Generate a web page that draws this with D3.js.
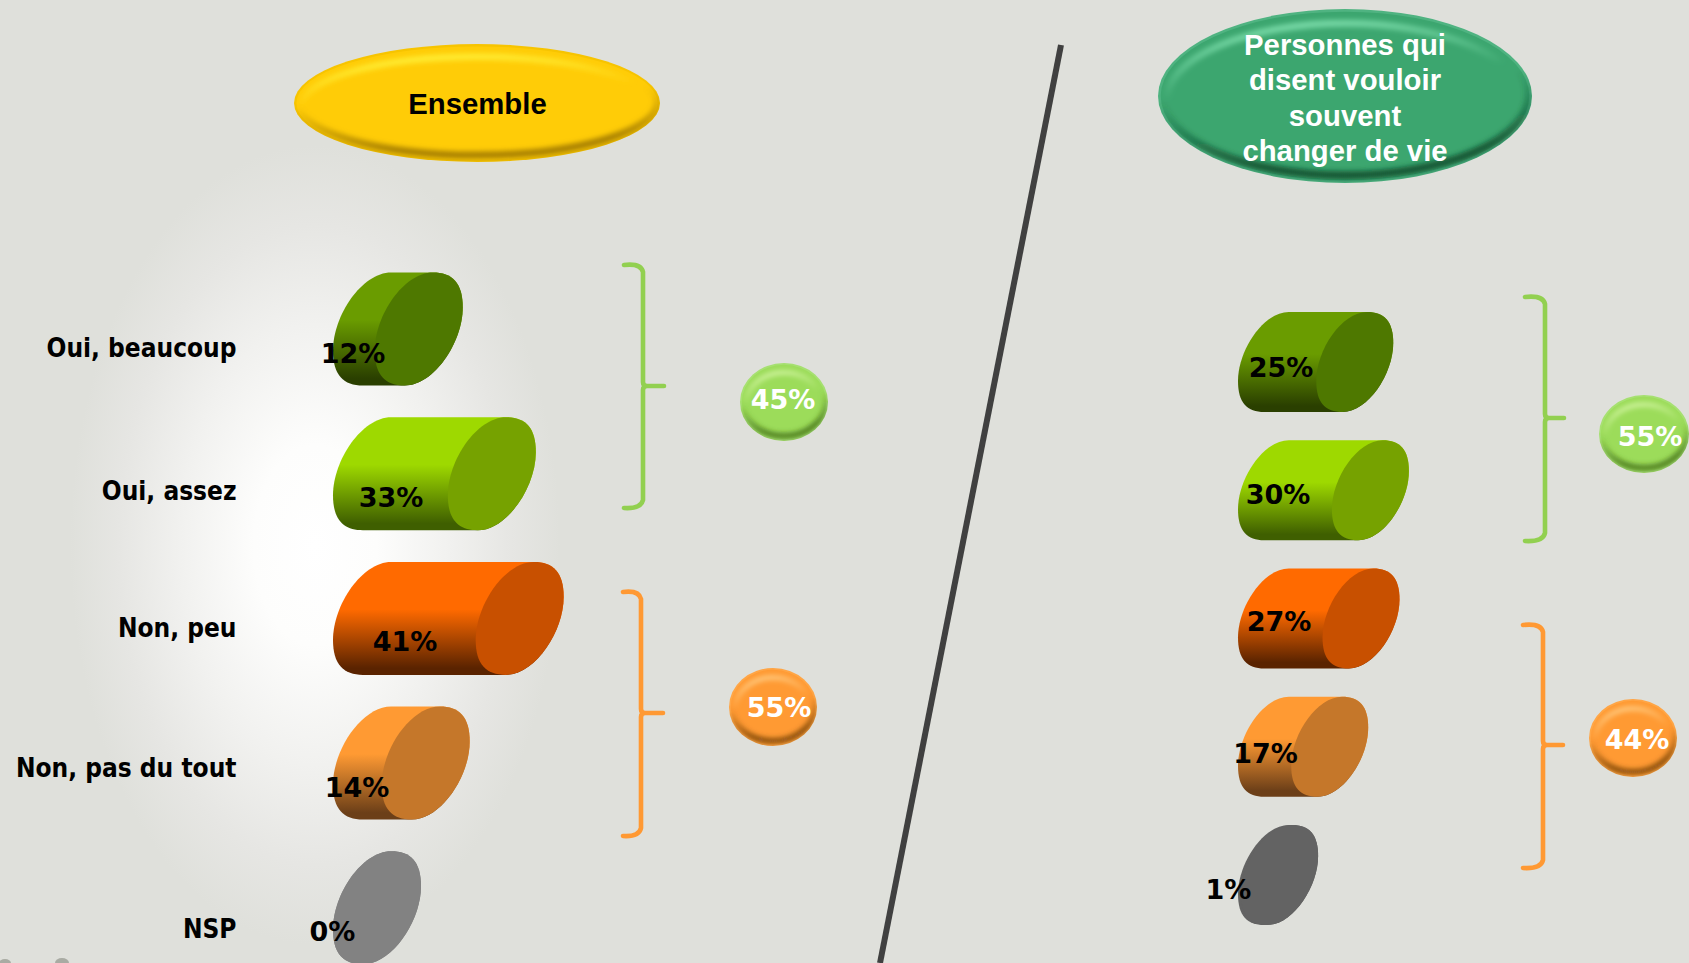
<!DOCTYPE html>
<html><head><meta charset="utf-8">
<script src="https://cdn.jsdelivr.net/npm/d3@7"></script>
<style>html,body{margin:0;padding:0;background:#dfe0db;overflow:hidden}svg{display:block}</style>
</head><body><div id="c"></div>
<script>
const categories = ["Oui, beaucoup","Oui, assez","Non, peu","Non, pas du tout","NSP"];
const ensembleValues = [12,33,41,14,0];
const personnesValues = [25,30,27,17,1];
const groupLabels = ["Ensemble",["Personnes qui","disent vouloir","souvent","changer de vie"]];
const ensembleTotals = [45,55];
const personnesTotals = [55,44];
const bodyTop = ["#6a9c00","#9ed900","#ff6a00","#ff9a33","#828282"];
const bodyBottom = ["#2a3f00","#3f5f00","#5a2300","#6c3f18","#828282"];
const capFill = ["#4e7800","#76a200","#c85000","#c5772a","#828282"];

const W=1689,H=963;
const svg=d3.select("#c").append("svg").attr("width",W).attr("height",H);
const defs=svg.append("defs");
svg.append("rect").attr("width",W).attr("height",H).attr("fill","#dfe0db");
const glow=defs.append("radialGradient").attr("id","glow");
[[0,"#ffffff"],[.25,"#fdfdfc"],[.55,"#f1f1ef"],[.8,"#e6e6e3"],[1,"#dfe0db"]].forEach(s=>glow.append("stop").attr("offset",s[0]).attr("stop-color",s[1]));
svg.append("ellipse").attr("cx",315).attr("cy",545).attr("rx",245).attr("ry",400).attr("fill","url(#glow)");

const blur=defs.append("filter").attr("id","b").attr("x","-20%").attr("y","-20%").attr("width","140%").attr("height","140%");
blur.append("feGaussianBlur").attr("stdDeviation",2.4);

// corner specks
svg.append("ellipse").attr("cx",5).attr("cy",963).attr("rx",6).attr("ry",4).attr("fill","#a9aba3");
svg.append("ellipse").attr("cx",62).attr("cy",963).attr("rx",7).attr("ry",5).attr("fill","#a9aba3");

// divider
svg.append("path").attr("d",d3.line()([[1061,45],[880,963]])).attr("stroke","#404040").attr("stroke-width",6).attr("fill","none");

// bevel helper
let uid=0;
function bevel(cx,cy,rx,ry,base,edge,light,dark,t){
  const id=++uid, g=svg.append("g");
  defs.append("clipPath").attr("id","cl"+id).append("ellipse").attr("cx",cx).attr("cy",cy).attr("rx",rx).attr("ry",ry);
  const lg=defs.append("linearGradient").attr("id","lg"+id).attr("x1",.1).attr("x2",.35).attr("y1",0).attr("y2",1);
  lg.append("stop").attr("offset",0).attr("stop-color",light).attr("stop-opacity",1);
  lg.append("stop").attr("offset",.45).attr("stop-color",light).attr("stop-opacity",0);
  const dg=defs.append("linearGradient").attr("id","dg"+id).attr("x1",.1).attr("x2",.3).attr("y1",0).attr("y2",1);
  dg.append("stop").attr("offset",.5).attr("stop-color",dark).attr("stop-opacity",0);
  dg.append("stop").attr("offset",.95).attr("stop-color",dark).attr("stop-opacity",.85);
  g.append("ellipse").attr("cx",cx).attr("cy",cy).attr("rx",rx).attr("ry",ry).attr("fill",edge);
  const inner=g.append("g").attr("clip-path",`url(#cl${id})`);
  inner.append("ellipse").attr("cx",cx).attr("cy",cy).attr("rx",rx-t*.3).attr("ry",ry-t*.3).attr("fill",base);
  inner.append("ellipse").attr("cx",cx).attr("cy",cy+t*.4).attr("rx",rx-t).attr("ry",ry-t*1.2).attr("fill","none")
    .attr("stroke",`url(#lg${id})`).attr("stroke-width",t*.8).attr("filter","url(#b)");
  inner.append("ellipse").attr("cx",cx).attr("cy",cy-t*.1).attr("rx",rx-t*.35).attr("ry",ry-t*.75).attr("fill","none")
    .attr("stroke",`url(#dg${id})`).attr("stroke-width",t*.9).attr("filter","url(#b)");
}
bevel(477,103,183,59,"#ffcc07","#f7c400","#fff23a","#9a7400",8);
bevel(1345,96,187,87,"#3ca66f","#4fb381","#7fe0ae","#0d4a2c",9);
svg.append("text").attr("x",477.5).attr("y",114).attr("text-anchor","middle").attr("font-family","Liberation Sans").attr("font-weight",700).attr("font-size",29.3).attr("fill","#000").text(groupLabels[0]);
groupLabels[1].forEach((l,i)=>svg.append("text").attr("x",1345).attr("y",55+i*35.3).attr("text-anchor","middle").attr("font-family","Liberation Sans").attr("font-weight",700).attr("font-size",29.3).attr("fill","#fff").text(l));

// cylinder shapes
function capOutline(x0,x1,y0,y1){
  const w=x1-x0,h=y1-y0;
  return {L:[x0,y0+.69*h],T:[x0+.66*w,y0],R:[x1,y0+.31*h],B:[x0+.34*w,y1],w,h};
}
function capPath(x0,x1,y0,y1){
  const c=capOutline(x0,x1,y0,y1),p=d3.path(),{w,h}=c;
  p.moveTo(...c.L);
  p.bezierCurveTo(x0,y0+.38*h,x0+.33*w,y0,c.T[0],c.T[1]);
  p.bezierCurveTo(x0+.88*w,y0,x1,y0+.09*h,c.R[0],c.R[1]);
  p.bezierCurveTo(x1,y0+.62*h,x0+.67*w,y1,c.B[0],c.B[1]);
  p.bezierCurveTo(x0+.12*w,y1,x0,y1-.09*h,c.L[0],c.L[1]);
  p.closePath();return p.toString();
}
function bodyPath(x0,xr,capW,y0,y1){
  const a=capOutline(x0,x0+capW,y0,y1),b=capOutline(xr-capW,xr,y0,y1),p=d3.path(),w=capW,h=y1-y0,bx=xr-capW;
  p.moveTo(...a.L);
  p.bezierCurveTo(x0,y0+.38*h,x0+.33*w,y0,a.T[0],a.T[1]);
  p.lineTo(...b.T);
  p.bezierCurveTo(bx+.88*w,y0,xr,y0+.09*h,b.R[0],b.R[1]);
  p.bezierCurveTo(xr,y0+.62*h,bx+.67*w,y1,b.B[0],b.B[1]);
  p.lineTo(...a.B);
  p.bezierCurveTo(x0+.12*w,y1,x0,y1-.09*h,a.L[0],a.L[1]);
  p.closePath();return p.toString();
}
categories.forEach((c,i)=>{
  const g=defs.append("linearGradient").attr("id","bg"+i).attr("x1",0).attr("x2",0).attr("y1",0).attr("y2",1);
  g.append("stop").attr("offset",0).attr("stop-color",bodyTop[i]);
  g.append("stop").attr("offset",.42).attr("stop-color",bodyTop[i]);
  g.append("stop").attr("offset",.94).attr("stop-color",bodyBottom[i]);
  g.append("stop").attr("offset",1).attr("stop-color",bodyBottom[i]);
});
function panel(values,xZero,xUnit,x0,capW,yStart,barH,step,capFills,bodyFix){
  const x=d3.scaleLinear().domain([0,1]).range([xZero,xZero+xUnit]);
  const y=d3.scaleBand().domain(categories).range([yStart,yStart+4*step+barH]).paddingInner(1-barH/step).paddingOuter(0);
  const g=svg.append("g");
  categories.forEach((c,i)=>{
    const v=values[i],xr=x(v),y0=y(c),y1=y0+y.bandwidth();
    g.append("path").attr("d",bodyPath(x0,xr,capW,y0,y1)).attr("fill",bodyFix&&bodyFix[i]||`url(#bg${i})`);
    g.append("path").attr("d",capPath(xr-capW,xr,y0,y1)).attr("fill",capFills[i]);
  });
}
panel(ensembleValues,421,3.48,333,88,272.5,113,144.7,capFill,null);
panel(personnesValues,1315,3.13,1238,77,312,100,128.25,capFill.map((c,i)=>i==4?"#636363":c),[null,null,null,null,"#636363"]);

// category labels
const labelY=[357,500,637,777,938];
categories.forEach((c,i)=>svg.append("text").attr("x",236.5).attr("y",labelY[i]).attr("text-anchor","end").attr("font-family","DejaVu Sans Condensed, DejaVu Sans").attr("font-stretch","condensed").attr("font-weight",700).attr("font-size",26).attr("fill","#000").text(c));

// value labels
function valText(x,y,t,fill){svg.append("text").attr("x",x).attr("y",y+10).attr("text-anchor","middle").attr("font-family","DejaVu Sans").attr("font-weight",700).attr("font-size",27).attr("fill",fill).text(t);}
const ensembleLabelX=[353,391,405,357,332.5],ensembleLabelY=[353,497,641,787,931];
const personnesLabelX=[1281,1278,1279,1265.5,1228.5],personnesLabelY=[367,494,621,753,889];
ensembleValues.forEach((v,i)=>valText(ensembleLabelX[i],ensembleLabelY[i],v+"%","#000"));
personnesValues.forEach((v,i)=>valText(personnesLabelX[i],personnesLabelY[i],v+"%","#000"));

// brackets
function bracket(xl,xv,xt,y0,ym,y1,col){
  const d=`M${xl},${y0+1}Q${xv-2},${y0-1} ${xv},${y0+8}L${xv},${ym-4}Q${xv},${ym} ${xv+4},${ym}L${xt},${ym}M${xv+4},${ym}Q${xv},${ym} ${xv},${ym+4}L${xv},${y1-8}Q${xv-2},${y1+1} ${xl},${y1}`;
  svg.append("path").attr("d",d).attr("fill","none").attr("stroke",col).attr("stroke-width",4.6).attr("stroke-linecap","round");
}
const green="#92d050",orange="#ff9933";
bracket(624,643,664,264,386,508,green);
bracket(623,641,663,591,713,836,orange);
bracket(1525,1545,1564,296,418,541,green);
bracket(1523,1543,1563,624,745,868,orange);

// badges
bevel(784,402,44,39,"#9cdc5a","#a6e070","#d7f7a8","#3e6a14",6);
bevel(773,707,44,39,"#ff9a33","#ffa545","#ffd28c","#6e3c08",6);
bevel(1644,434,45,39,"#9cdc5a","#a6e070","#d7f7a8","#3e6a14",6);
bevel(1633,738,44,39,"#ff9a33","#ffa545","#ffd28c","#6e3c08",6);
valText(783,399,ensembleTotals[0]+"%","#fff");
valText(779,707,ensembleTotals[1]+"%","#fff");
valText(1650,436,personnesTotals[0]+"%","#fff");
valText(1637,739,personnesTotals[1]+"%","#fff");
</script></body></html>
